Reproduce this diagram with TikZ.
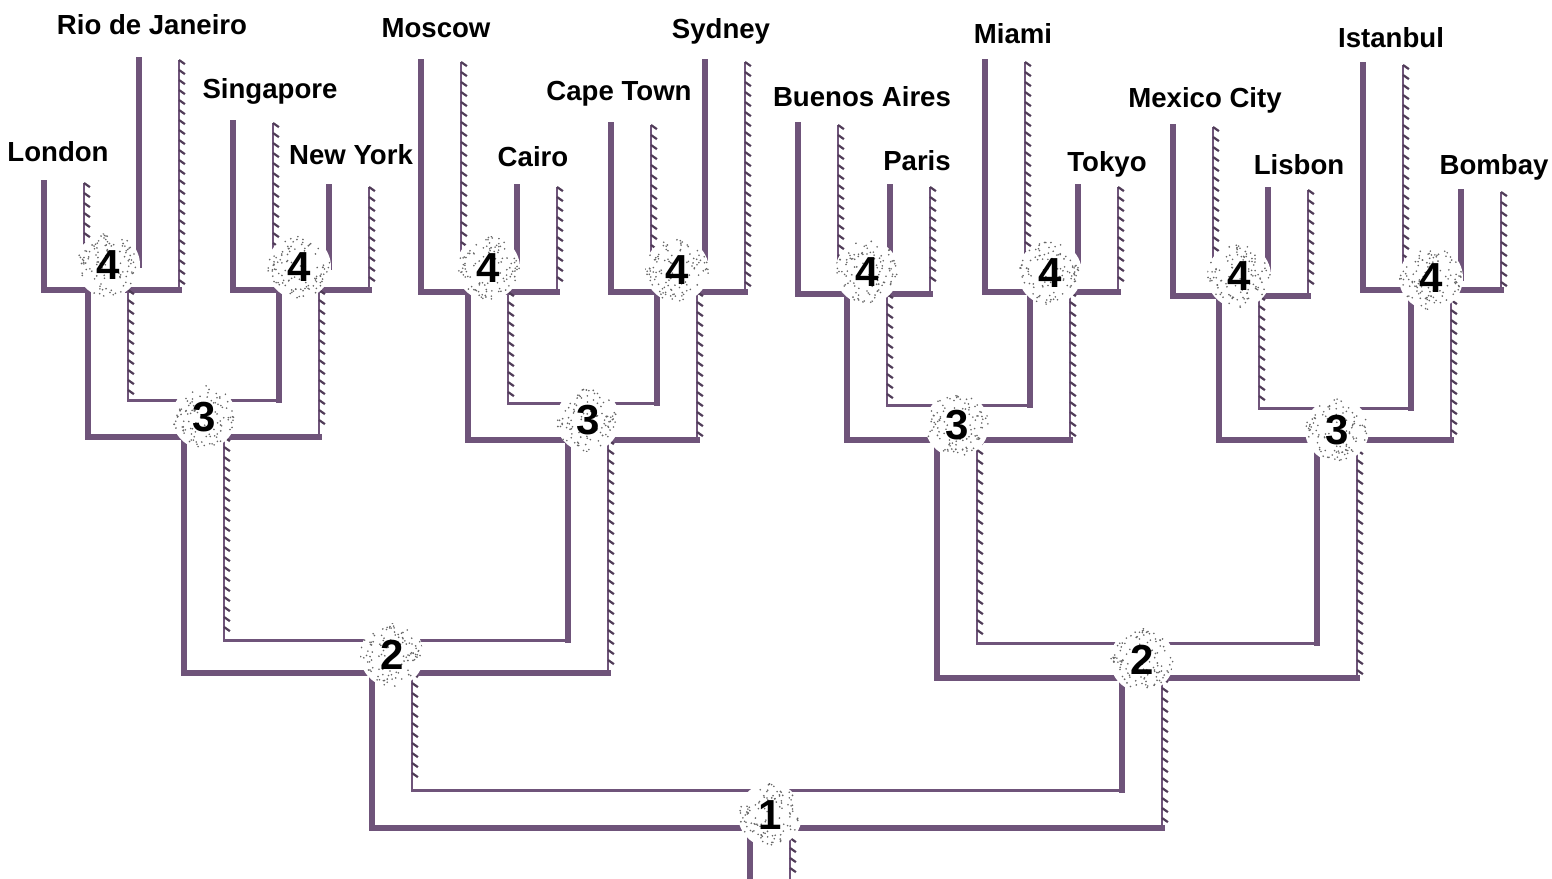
\documentclass[tikz,border=0pt]{standalone}
\usepackage{fontspec}
\setmainfont{Liberation Sans}
\usetikzlibrary{decorations.pathreplacing,calc}

\definecolor{pipe}{RGB}{111,84,122}
\definecolor{tick}{RGB}{80,60,88}

\tikzset{
  wall/.style={pipe, line width=3pt, line cap=rect},
  iwall/.style={pipe, line width=1.5pt, line cap=rect},
  hwall/.style={pipe, line width=1.3pt,
    postaction={decorate, draw=tick, line width=1.1pt,
      decoration={border, segment length=5pt, amplitude=3.6pt, angle=55}}},
  city/.style={font=\fontsize{13.8}{16}\selectfont\bfseries},
  blob/.style={circle, minimum size=32pt, inner sep=0pt, fill=white,
    font=\fontsize{21}{21}\selectfont\bfseries,
    path picture={
      \foreach \i in {1,...,110}
        \fill[black!60] ($(path picture bounding box.center)+({rnd*360}:{16*sqrt(rnd)*1pt})$) circle (0.45pt);
    }}
}

\begin{document}
\begin{tikzpicture}[x=0.5pt,y=-0.5pt]
\pgfmathsetseed{7}
\useasboundingbox (0,0) rectangle (1552,878);

% first round: two cities meet
\foreach \cx/\cy/\xa/\ta/\xb/\tb/\yb in {108/265/64/183/159/60/290, 299/267/253/123/349/187/290,
    488/268/441/62/537/187/292, 677/270/631/125/725/62/292,
    867/272/818/125/910/187/294, 1050/273/1005/62/1098/187/292,
    1239/276/1193/127/1288/190/296, 1431/278/1383/65/1481/192/290} {
    \draw[wall] (\xa-20,\ta) |- (\cx-20,\yb);
    \draw[hwall] (\xb+20,\tb) -- (\xb+20,\yb);
    \draw[wall] (\xb+20,\yb) -- (\cx+20,\yb);
    \draw[hwall] (\xa+20,\ta) -- (\xa+20,\cy);
    \draw[wall] (\xb-20,\tb) -- (\xb-20,\cy);
}

% later rounds
\foreach \cx/\cy/\xa/\ta/\xb/\tb/\yi/\yb in {204/417/108/290/299/290/400/437, 588/420/488/292/677/292/403/440,
    957/425/867/294/1050/292/405/440, 1337/430/1239/296/1431/290/408/440,
    392/655/204/437/588/440/640/673, 1142/660/957/440/1337/440/643/678,
    770/815/392/673/1142/678/790/828} {
    \draw[wall] (\xa-20,\ta) |- (\cx-20,\yb);
    \draw[hwall] (\xb+20,\tb) -- (\xb+20,\yb);
    \draw[wall] (\xb+20,\yb) -- (\cx+20,\yb);
    \draw[hwall] (\xa+20,\ta) -- (\xa+20,\yi);
    \draw[iwall] (\xa+20,\yi) -- (\xb-20,\yi);
    \draw[wall] (\xb-20,\yi) -- (\xb-20,\tb);
}
\draw[wall] (750,828) -- (750,885);
\draw[hwall] (790,828) -- (790,885);

% junctions
\node[blob] (j4a) at (108,265) {4};
\node[blob] (j4b) at (299,267) {4};
\node[blob] (j4c) at (488,268) {4};
\node[blob] (j4d) at (677,270) {4};
\node[blob] (j4e) at (867,272) {4};
\node[blob] (j4f) at (1050,273) {4};
\node[blob] (j4g) at (1239,276) {4};
\node[blob] (j4h) at (1431,278) {4};
\node[blob] (j3a) at (204,417) {3};
\node[blob] (j3b) at (588,420) {3};
\node[blob] (j3c) at (957,425) {3};
\node[blob] (j3d) at (1337,430) {3};
\node[blob] (j2a) at (392,655) {2};
\node[blob] (j2b) at (1142,660) {2};
\node[blob] (j1) at (770,815) {1};

% cities
\node[city] (london) at (58,152) {London};
\node[city] (rio) at (152,25) {Rio de Janeiro};
\node[city] (singapore) at (270,91) {Singapore};
\node[city] (newyork) at (351,155) {New York};
\node[city] (moscow) at (436,28) {Moscow};
\node[city] (cairo) at (533,157) {Cairo};
\node[city] (capetown) at (619,94) {Cape Town};
\node[city] (sydney) at (721,31) {Sydney};
\node[city] (buenosaires) at (862,97) {Buenos Aires};
\node[city] (paris) at (917,161) {Paris};
\node[city] (miami) at (1013,34) {Miami};
\node[city] (tokyo) at (1107,164) {Tokyo};
\node[city] (mexico) at (1205,100) {Mexico City};
\node[city] (lisbon) at (1299,165) {Lisbon};
\node[city] (istanbul) at (1391,38) {Istanbul};
\node[city] (bombay) at (1494,167) {Bombay};
\end{tikzpicture}
\end{document}
